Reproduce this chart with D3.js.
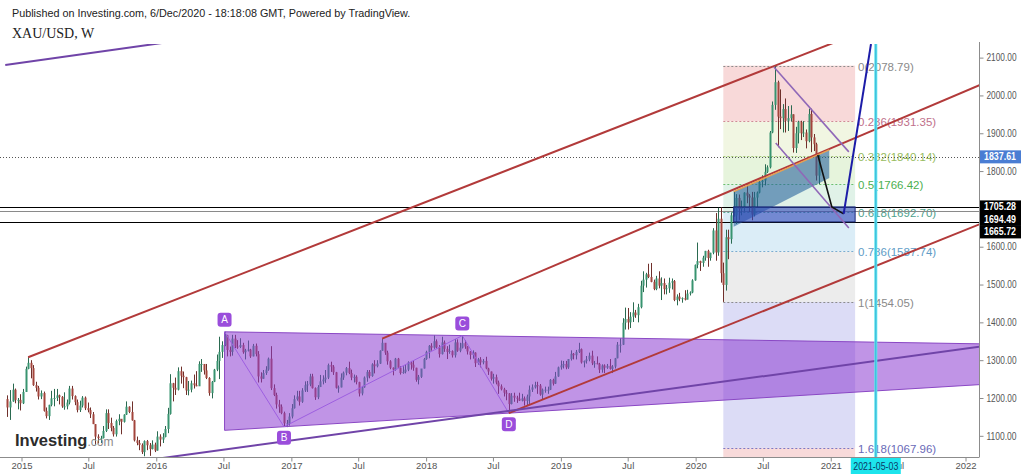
<!DOCTYPE html>
<html><head><meta charset="utf-8">
<script src="https://cdn.jsdelivr.net/npm/d3@7"></script>
<style>body{margin:0;background:#fff;} svg{display:block;font-family:"Liberation Sans",Arial,sans-serif;}</style>
</head><body><svg id="c" width="1024" height="476"></svg>
<script>
// ---------- DATA ----------
const firstWeek = "2014-11-24";
const firstOpen = 1197;
const close2014 = [1175,1191,1222,1195,1195,1186];
const high2014  = [1207,1221,1238,1225,1200,1210];
const low2014   = [1150,1142,1190,1186,1170,1167];
const close2015 = [1216,1277,1293,1279,1234,1227,1204,1213,1166,1152,1182,1199,1200,1207,1203,1178,1178,1188,1225,1205,1189,1168,1180,1201,1173,1168,1157,1131,1098,1094,1094,1113,1160,1134,1121,1104,1139,1145,1137,1156,1177,1163,1141,1088,1081,1076,1057,1086,1075,1065,1077,1061];
const high2015  = [1224,1283,1308,1300,1287,1243,1232,1220,1217,1175,1182,1219,1224,1224,1209,1205,1215,1196,1232,1232,1207,1196,1193,1205,1204,1188,1175,1163,1131,1104,1100,1126,1170,1170,1148,1126,1143,1157,1144,1157,1191,1178,1191,1142,1098,1089,1080,1088,1089,1081,1088,1082];
const low2015   = [1184,1216,1276,1252,1232,1217,1196,1197,1164,1146,1142,1178,1178,1192,1183,1174,1169,1170,1183,1196,1181,1162,1163,1175,1168,1162,1147,1131,1077,1080,1081,1093,1110,1118,1112,1098,1098,1128,1104,1135,1155,1160,1140,1085,1075,1062,1052,1046,1062,1047,1064,1057];
const close2016 = [1098,1090,1097,1118,1158,1239,1227,1222,1271,1259,1255,1220,1222,1239,1234,1231,1290,1290,1273,1253,1213,1243,1275,1298,1322,1340,1366,1327,1322,1357,1336,1335,1340,1321,1326,1328,1310,1338,1316,1257,1251,1266,1275,1304,1226,1208,1183,1177,1160,1133,1133,1151];
const high2016  = [1112,1104,1107,1126,1174,1263,1240,1254,1281,1283,1270,1256,1245,1246,1262,1271,1297,1303,1287,1290,1255,1245,1277,1315,1362,1350,1375,1367,1336,1367,1367,1353,1358,1346,1330,1352,1330,1343,1344,1324,1268,1274,1284,1307,1337,1236,1214,1195,1183,1164,1142,1160];
const low2016   = [1061,1072,1081,1096,1107,1156,1191,1208,1220,1238,1226,1208,1207,1215,1225,1231,1232,1269,1262,1250,1206,1199,1242,1271,1250,1306,1337,1310,1310,1312,1332,1330,1332,1317,1302,1323,1306,1310,1310,1241,1241,1251,1261,1272,1221,1205,1172,1161,1157,1124,1123,1127];
const close2017 = [1173,1197,1204,1190,1220,1234,1236,1257,1226,1202,1229,1244,1249,1254,1287,1283,1268,1227,1228,1254,1267,1279,1266,1254,1256,1242,1212,1228,1254,1269,1258,1289,1284,1291,1325,1346,1320,1297,1280,1275,1304,1280,1266,1269,1275,1294,1288,1280,1248,1256,1278,1303];
const high2017  = [1184,1207,1219,1219,1226,1244,1245,1264,1264,1228,1234,1261,1260,1274,1291,1296,1287,1269,1233,1265,1270,1282,1296,1275,1262,1260,1243,1232,1257,1274,1274,1292,1300,1300,1326,1357,1345,1325,1300,1281,1306,1306,1284,1284,1288,1297,1298,1300,1280,1261,1275,1306];
const low2017   = [1146,1172,1193,1180,1187,1216,1216,1231,1225,1195,1197,1229,1236,1240,1250,1269,1261,1225,1214,1228,1248,1260,1263,1247,1241,1236,1204,1207,1227,1243,1252,1256,1265,1281,1290,1325,1314,1288,1276,1260,1272,1280,1262,1264,1265,1271,1275,1272,1243,1236,1253,1278];
const close2018 = [1322,1338,1333,1350,1334,1316,1347,1330,1322,1324,1313,1347,1325,1333,1345,1336,1323,1314,1320,1292,1302,1294,1298,1278,1270,1251,1255,1241,1231,1223,1214,1212,1184,1206,1201,1198,1193,1199,1192,1204,1222,1228,1234,1233,1209,1222,1222,1222,1248,1238,1257,1281,1286];
const high2018  = [1325,1340,1345,1366,1355,1340,1362,1352,1337,1341,1326,1356,1355,1346,1365,1353,1337,1324,1326,1321,1306,1308,1303,1309,1280,1270,1264,1262,1246,1236,1227,1221,1213,1213,1214,1206,1214,1211,1204,1209,1233,1236,1243,1243,1237,1225,1230,1230,1250,1251,1269,1283,1299];
const low2018   = [1301,1305,1325,1330,1331,1307,1315,1322,1303,1317,1307,1307,1322,1321,1331,1330,1315,1302,1304,1282,1288,1281,1289,1276,1261,1246,1238,1236,1211,1220,1204,1194,1160,1183,1190,1187,1192,1191,1180,1180,1182,1216,1225,1211,1206,1196,1214,1211,1221,1233,1237,1256,1275];
const close2019 = [1290,1281,1303,1317,1313,1322,1329,1294,1298,1302,1312,1292,1292,1290,1275,1286,1280,1285,1277,1283,1305,1341,1341,1399,1409,1400,1415,1426,1419,1440,1497,1513,1527,1520,1507,1488,1516,1497,1504,1488,1490,1505,1509,1459,1468,1462,1464,1460,1476,1479,1511,1552];
const high2019  = [1298,1298,1303,1326,1319,1327,1346,1331,1299,1311,1320,1325,1298,1310,1293,1289,1289,1290,1303,1287,1306,1348,1358,1411,1439,1438,1427,1453,1433,1449,1510,1535,1531,1555,1557,1513,1523,1535,1519,1516,1499,1518,1516,1512,1474,1478,1466,1485,1486,1482,1514,1553];
const low2019   = [1278,1276,1277,1299,1302,1302,1319,1291,1281,1291,1297,1287,1280,1289,1266,1267,1266,1277,1275,1266,1278,1305,1320,1340,1381,1381,1385,1401,1412,1400,1437,1480,1492,1517,1506,1485,1485,1490,1459,1474,1474,1478,1487,1456,1445,1456,1452,1458,1461,1471,1477,1510];
const close2020 = [1562,1557,1571,1589,1570,1584,1643,1585,1674,1530,1499,1625,1620,1683,1683,1729,1700,1703,1743,1735,1730,1685,1730,1743,1771,1775,1798,1810,1902,1975,2035,1944,1940,1964,1933,1940,1950,1861,1900,1930,1900,1902,1879,1951,1889,1871,1788,1837.61];
const high2020  = [1611,1563,1576,1589,1592,1584,1649,1689,1703,1704,1558,1645,1645,1690,1747,1739,1738,1722,1744,1765,1739,1745,1745,1746,1779,1789,1818,1815,1906,1984,2078.79,2039,2016,1977,1992,1972,1974,1950,1917,1933,1933,1932,1910,1965,1965,1898,1875,1848];
const low2020   = [1543,1536,1547,1563,1547,1563,1580,1563,1576,1505,1454.05,1484,1567,1608,1680,1660,1671,1683,1693,1715,1692,1670,1680,1705,1741,1757,1762,1795,1807,1900,1962,1863,1911,1902,1902,1906,1931,1849,1848,1873,1882,1890,1860,1876,1850,1853,1775,1765];

// 1700.00 is hidden behind the level tags in the reference
const priceTicks = [1100,1200,1300,1400,1500,1600,1800,1900,2000,2100];
const timeTickDates  = ["2015-01-01","2015-07-01","2016-01-01","2016-07-01","2017-01-01","2017-07-01","2018-01-01","2018-07-01","2019-01-01","2019-07-01","2020-01-01","2020-07-01","2021-01-01","2021-07-01","2022-01-01"];
const timeTickLabels = ["2015","Jul","2016","Jul","2017","Jul","2018","Jul","2019","Jul","2020","Jul","2021","Jul","2022"];

const lastPrice = 1837.61;
const hLevels = [1705.28, 1694.49, 1665.72];
const hLevelColors = ["#000000", "#8a8a8a", "#000000"];

const fibStart = "2020-03-16", fibEnd = "2021-03-08";
const fibHigh = 2078.79, fibLow = 1454.05;
const fibLevels = [0, 0.236, 0.382, 0.5, 0.618, 0.786, 1, 1.618, 2.618];
const fibLineColors = ["#8c8c8c","#d08a96","#a8c878","#6cbf6c","#5aa894","#79add0","#8c8c8c","#7a7ac8","#e09a9a"];
const fibTextColors = ["#8a8a8a","#c0708a","#98bc60","#4caf50","#4f9f8c","#5e9cc6","#8a8a8a","#6a6ab8","#d08080"];
const fibFills = ["#f8d9d9","#f1f6e2","#e6f4dc","#e0f2e8","#dbedf7","#ececec","#dcdcf6","#f8dada"];

const redLines = [
  [["2015-01-19",1307.8],["2020-08-03",2078.79]],
  [["2017-09-04",1357],["2021-12-31",2011]],
  [["2018-08-13",1160],["2021-12-31",1644]]
];
const purpleChannel = [
  [["2014-11-18",2080.7],["2015-12-28",2136]],
  [["2014-11-18",984.7],["2018-08-13",1166]]
];
const abcdNames = ["A","B","C","D"];
const abcdPoints = [["2016-07-04",1375],["2016-12-12",1124],["2018-04-09",1365],["2018-08-13",1160]];
const wedgePoints = [["2020-04-13",1745.7],["2020-12-28",1856],["2020-12-28",1782],["2020-04-13",1653]];
const boxCorners = [["2020-04-13",1705.28],["2021-03-08",1665.72]];
const flagLines = [
  [["2020-07-31",2075.4],["2021-02-19",1850.7]],
  [["2020-08-05",1874.5],["2021-02-19",1649.7]]
];
const forecastDown = [["2020-11-27",1842.7],["2021-01-04",1705],["2021-02-05",1686.7]];
const forecastUp = [["2021-02-05",1686.7],["2021-04-20",2136]];
const markerDate = "2021-05-03";

// ---------- SETUP ----------
const parse = d3.utcParse("%Y-%m-%d");
const plotL = 0, plotR = 979, plotT = 44, plotB = 457;
const axisFont = "'Liberation Sans',Arial,sans-serif";
const x = d3.scaleUtc().domain([parse("2015-01-01"), parse("2022-01-01")]).range([21.5, 965.5]);
const y = d3.scaleLinear().domain([1044, 2136]).range([plotB, plotT]);
const P = p => [x(parse(p[0])), y(p[1])];

const svg = d3.select("#c");
svg.append("defs").append("clipPath").attr("id","clip")
  .append("rect").attr("x",plotL).attr("y",plotT).attr("width",plotR-plotL).attr("height",plotB-plotT);

// header
svg.append("text").attr("x",12).attr("y",17).attr("font-size",10.8).attr("fill","#222")
  .text("Published on Investing.com, 6/Dec/2020 - 18:18:08 GMT, Powered by TradingView.");
svg.append("text").attr("x",12).attr("y",38).attr("font-size",14).attr("fill","#222")
  .attr("font-family","'Liberation Serif','Times New Roman',serif").text("XAU/USD, W");

const g = svg.append("g").attr("clip-path","url(#clip)");

// ---------- FIB ----------
const fx0 = x(parse(fibStart)), fx1 = x(parse(fibEnd));
const fibPrice = l => fibHigh - l*(fibHigh - fibLow);
for (let i = 0; i < fibLevels.length - 1; i++) {
  const ya = y(fibPrice(fibLevels[i])), yb = y(fibPrice(fibLevels[i+1]));
  g.append("rect").attr("x",fx0).attr("y",ya).attr("width",fx1-fx0).attr("height",yb-ya).attr("fill",fibFills[i]);
}
fibLevels.slice(0, 8).forEach((l,i) => {
  const yy = Math.round(y(fibPrice(l))) + 0.5;
  g.append("line").attr("x1",fx0).attr("x2",fx1).attr("y1",yy).attr("y2",yy)
    .attr("stroke",fibLineColors[i]).attr("stroke-dasharray","2,2").attr("stroke-width",1);
  g.append("text").attr("x",fx1+3).attr("y",yy).attr("dy","0.35em").attr("font-size",11.5)
    .attr("fill",fibTextColors[i]).text(`${l}(${fibPrice(l).toFixed(2)})`);
});

// ---------- HORIZONTAL LEVELS ----------
g.append("line").attr("x1",plotL).attr("x2",plotR).attr("y1",Math.round(y(lastPrice))+0.5).attr("y2",Math.round(y(lastPrice))+0.5)
  .attr("stroke","#555").attr("stroke-dasharray","1,2");
hLevels.forEach((v,i) => {
  const yy = Math.round(y(v)) + 0.5;
  g.append("line").attr("x1",plotL).attr("x2",plotR).attr("y1",yy).attr("y2",yy).attr("stroke",hLevelColors[i]).attr("stroke-width",1);
});

// ---------- CANDLES ----------
const closes = [...close2014,...close2015,...close2016,...close2017,...close2018,...close2019,...close2020];
const highs  = [...high2014,...high2015,...high2016,...high2017,...high2018,...high2019,...high2020];
const lows   = [...low2014,...low2015,...low2016,...low2017,...low2018,...low2019,...low2020];
const candles = closes.map((c,i) => ({
  date: d3.utcDay.offset(parse(firstWeek), 7*i),
  o: i ? closes[i-1] : firstOpen, h: highs[i], l: lows[i], c
}));
const cg = g.append("g");
cg.selectAll("line").data(candles).join("line")
  .attr("x1", d => Math.round(x(d.date)) + 0.5).attr("x2", d => Math.round(x(d.date)) + 0.5)
  .attr("y1", d => y(d.h)).attr("y2", d => y(d.l))
  .attr("stroke", d => d.c >= d.o ? "#2a6a50" : "#70302b").attr("stroke-width",1);
cg.selectAll("rect").data(candles).join("rect")
  .attr("x", d => Math.round(x(d.date)) - 0.5).attr("width", 2)
  .attr("y", d => y(Math.max(d.o,d.c))).attr("height", d => Math.max(1, Math.abs(y(d.o)-y(d.c))))
  .attr("fill", d => d.c >= d.o ? "#389470" : "#a3453c");

// ---------- helpers ----------
function extend(p1, p2, xEnd) {
  const [x1,y1] = P(p1), [x2,y2] = P(p2);
  return [[x1,y1],[xEnd, y1 + (xEnd-x1)*(y2-y1)/(x2-x1)]];
}
const lineGen = d3.line();

// ---------- ABCD TRIANGLE ----------
const [pA,pB,pC,pD] = abcdPoints;
const topEdge = extend(pA, pC, plotR+60), botEdge = extend(pB, pD, plotR+60);
const aX = P(pA)[0];
const botAtA = botEdge[0][1] + (aX - botEdge[0][0]) * (botEdge[1][1]-botEdge[0][1])/(botEdge[1][0]-botEdge[0][0]);
g.append("path").attr("d", lineGen([topEdge[0], topEdge[1], botEdge[1], [aX, botAtA]]) + "Z")
  .attr("fill","rgba(140,60,210,0.55)").attr("stroke","#8a48c4").attr("stroke-width",1);
g.append("path").attr("d", lineGen(abcdPoints.map(P))).attr("fill","none").attr("stroke","#9d5fe0").attr("stroke-width",1);

// ---------- RED TRENDLINES ----------
redLines.forEach(([p1,p2]) => {
  g.append("path").attr("d", lineGen(extend(p1,p2,plotR+60))).attr("stroke","#b23a3a").attr("stroke-width",2).attr("fill","none");
});
// ---------- PURPLE CHANNEL ----------
purpleChannel.forEach(([p1,p2]) => {
  g.append("path").attr("d", lineGen(extend(p1,p2,plotR+60))).attr("stroke","#7044a8").attr("stroke-width",2).attr("fill","none");
});

// ---------- WEDGE ----------
const wp = wedgePoints.map(P);
g.append("path").attr("d", lineGen(wp)+"Z").attr("fill","rgba(35,95,155,0.58)").attr("stroke","none");
g.append("path").attr("d", lineGen([wp[0],wp[1]])).attr("stroke","#e8a050").attr("stroke-width",1.5).attr("fill","none");

// ---------- NAVY BOX ----------
const b0 = P(boxCorners[0]), b1 = P(boxCorners[1]);
g.append("rect").attr("x",b0[0]).attr("y",b0[1]).attr("width",b1[0]-b0[0]).attr("height",b1[1]-b0[1])
  .attr("fill","rgba(45,70,185,0.6)").attr("stroke","#1c2a78").attr("stroke-width",1);

// ---------- FLAG ----------
flagLines.forEach(pts => {
  g.append("path").attr("d", lineGen(pts.map(P))).attr("stroke","#9068b8").attr("stroke-width",1.6).attr("fill","none");
});
// ---------- FORECAST ----------
g.append("path").attr("d", lineGen(forecastDown.map(P))).attr("stroke","#111").attr("stroke-width",1.6).attr("fill","none");
g.append("path").attr("d", lineGen(forecastUp.map(P))).attr("stroke","#1c1ca8").attr("stroke-width",2).attr("fill","none");

// ---------- CYAN MARKER ----------
const mx = x(parse(markerDate));
g.append("line").attr("x1",mx).attr("x2",mx).attr("y1",plotT).attr("y2",plotB).attr("stroke","#5de6ec").attr("stroke-width",3);
g.append("line").attr("x1",mx).attr("x2",mx).attr("y1",plotT).attr("y2",plotB).attr("stroke","#3ab0d8").attr("stroke-width",1);

// ---------- ABCD LABELS ----------
abcdPoints.forEach((p,i) => {
  const [px,py] = P(p);
  const cy = py + (i % 2 === 0 ? -12 : 11);
  svg.append("rect").attr("x",px-7).attr("y",cy-7).attr("width",14).attr("height",14).attr("rx",3).attr("fill","#9a4ddb");
  svg.append("text").attr("x",px).attr("y",cy).attr("dy","0.36em").attr("text-anchor","middle")
    .attr("font-size",10).attr("fill","#fff").text(abcdNames[i]);
});

// ---------- LOGO ----------
const logo = svg.append("text").attr("x",15).attr("y",446);
logo.append("tspan").attr("font-size",16.5).attr("font-weight","bold").attr("fill","#2b2b2b").text("Investing");
logo.append("tspan").attr("font-size",12).attr("fill","#8a8a8a").text(".com");

// ---------- AXES ----------
svg.append("line").attr("x1",plotR+0.5).attr("x2",plotR+0.5).attr("y1",plotT-2).attr("y2",plotB).attr("stroke","#8c8c8c");
svg.append("line").attr("x1",plotL).attr("x2",plotR+0.5).attr("y1",plotB+0.5).attr("y2",plotB+0.5).attr("stroke","#8c8c8c");

const yAxis = svg.append("g").attr("transform",`translate(${plotR+0.5},0)`)
  .call(d3.axisRight(y).tickValues(priceTicks).tickFormat(d3.format(".2f")).tickSize(4).tickPadding(3).tickSizeOuter(0));
yAxis.select(".domain").remove();
yAxis.selectAll("line").attr("stroke","#8c8c8c");
yAxis.selectAll("text").attr("font-size",10).attr("fill","#555").attr("font-family",axisFont)
  .attr("textLength",30).attr("lengthAdjust","spacingAndGlyphs");

const xAxis = svg.append("g").attr("transform",`translate(0,${plotB+0.5})`)
  .call(d3.axisBottom(x).tickValues(timeTickDates.map(parse)).tickFormat((d,i) => timeTickLabels[i]).tickSize(4).tickPadding(1).tickSizeOuter(0));
xAxis.select(".domain").remove();
xAxis.selectAll("line").attr("stroke","#8c8c8c");
xAxis.selectAll("text").attr("font-size",9.5).attr("fill","#555").attr("font-family",axisFont);

// price labels on axis
function axisTag(v, cy, bg) {
  svg.append("rect").attr("x",plotR+1).attr("y",cy-6.5).attr("width",41).attr("height",13).attr("fill",bg);
  svg.append("text").attr("x",plotR+5).attr("y",cy).attr("dy","0.35em").attr("font-size",10)
    .attr("font-family",axisFont).attr("font-weight","bold").attr("fill","#fff")
    .attr("textLength",32).attr("lengthAdjust","spacingAndGlyphs").text(v.toFixed(2));
}
axisTag(lastPrice, y(lastPrice), "#4a7dd3");
let prevY = -Infinity;
hLevels.forEach(v => { const cy = Math.max(y(v), prevY + 12.5); prevY = cy; axisTag(v, cy, "#000"); });

// date tag
svg.append("rect").attr("x",mx-25).attr("y",plotB+1).attr("width",50).attr("height",16).attr("fill","#1de4ec");
svg.append("text").attr("x",mx).attr("y",plotB+9).attr("dy","0.35em").attr("text-anchor","middle").attr("font-size",10)
  .attr("font-family",axisFont).attr("fill","#0b3a66").attr("textLength",45).attr("lengthAdjust","spacingAndGlyphs").text(markerDate);
</script></body></html>
